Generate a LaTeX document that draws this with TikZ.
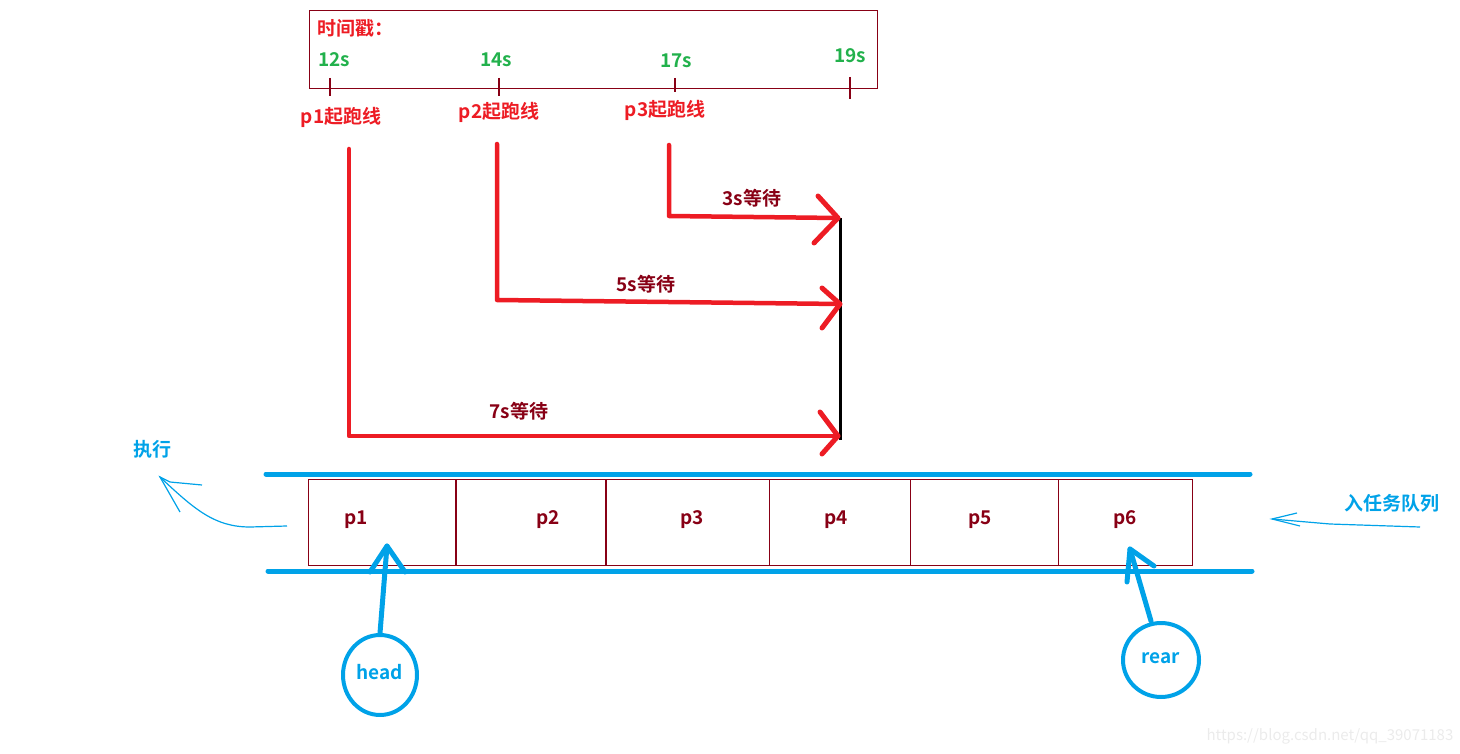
\documentclass[tikz,border=0pt]{standalone}
\usepackage{fontspec}
\setmainfont{Noto Sans CJK SC}[BoldFont={* Bold}]
\usetikzlibrary{calc,shapes.geometric}
\definecolor{pred}{HTML}{ED1C24}
\definecolor{dred}{HTML}{880015}
\definecolor{pgreen}{HTML}{22B14C}
\definecolor{pblue}{HTML}{00A2E8}
\tikzset{
  lbl/.style={font=\bfseries\fontsize{19}{22}\selectfont, inner sep=0pt},
  redlbl/.style={lbl, text=pred},
  greenlbl/.style={lbl, text=pgreen},
  waitlbl/.style={lbl, text=dred},
  bluelbl/.style={lbl, text=pblue},
  cell/.style={draw=dred, line width=1.2pt, minimum height=86pt, inner sep=0pt, anchor=north west},
  tick/.style={draw=dred, line width=1.3pt},
  runline/.style={draw=pred, line width=4.5pt, line cap=round, line join=round},
  chevron/.style={draw=pred, line width=5pt, line cap=round, line join=round},
  qline/.style={draw=pblue, line width=5pt, line cap=round},
  ptr/.style={draw=pblue, line width=5pt, line cap=round, line join=round},
  thinarrow/.style={draw=pblue, line width=1.2pt},
  ptrcircle/.style={draw=pblue, line width=4pt, ellipse, inner sep=0pt, font=\bfseries\fontsize{19}{22}\selectfont, text=pblue},
}
\begin{document}
\begin{tikzpicture}[x=1pt,y=-1pt]
\useasboundingbox (0,0) rectangle (1460,754);
% timestamp box
\node[draw=dred, line width=1.2pt, anchor=north west, minimum width=568pt, minimum height=78pt, inner sep=0pt] (tsbox) at (309,10) {};
\node[redlbl, anchor=west] (tstitle) at (317,28) {时间戳：};
\node[greenlbl] (t12) at (334,60) {12s};
\node[greenlbl] (t14) at (496,60) {14s};
\node[greenlbl] (t17) at (676,61) {17s};
\node[greenlbl] (t19) at (850,56) {19s};
\coordinate (k1a) at (330,78); \coordinate (k1b) at (330,96);
\coordinate (k2a) at (499,78); \coordinate (k2b) at (499,96);
\coordinate (k3a) at (675,78); \coordinate (k3b) at (675,92);
\coordinate (k4a) at (850,77); \coordinate (k4b) at (850,99);
\draw[tick] (k1a) -- (k1b);
\draw[tick] (k2a) -- (k2b);
\draw[tick] (k3a) -- (k3b);
\draw[tick] (k4a) -- (k4b);
\node[redlbl] (s1) at (341,117) {p1起跑线};
\node[redlbl] (s2) at (499,112) {p2起跑线};
\node[redlbl] (s3) at (665,110) {p3起跑线};
% finish line
\coordinate (fintop) at (840,218);
\coordinate (finbot) at (840,440);
\draw[line width=3pt] (fintop) -- (finbot);
% run lines
\coordinate (r1a) at (349,149); \coordinate (r1b) at (349,436); \coordinate (r1c) at (838,436);
\coordinate (r2a) at (497,144); \coordinate (r2b) at (497,300); \coordinate (r2c) at (840,304);
\coordinate (r3a) at (669,145); \coordinate (r3b) at (669,216); \coordinate (r3c) at (838,218);
\draw[runline] (r1a) -- (r1b) -- (r1c);
\draw[runline] (r2a) -- (r2b) -- (r2c);
\draw[runline] (r3a) -- (r3b) -- (r3c);
\draw[chevron] ($(r1c)+(-18,-24)$) -- (r1c) -- ($(r1c)+(-16,18)$);
\draw[chevron] ($(r2c)+(-18,-16)$) -- (r2c) -- ($(r2c)+(-18,24)$);
\draw[chevron] ($(r3c)+(-20,-22)$) -- (r3c) -- ($(r3c)+(-24,25)$);
\node[waitlbl] (w3) at (752,198) {3s等待};
\node[waitlbl] (w5) at (646,284) {5s等待};
\node[waitlbl] (w7) at (519,411) {7s等待};
% queue
\coordinate (qt1) at (266,474); \coordinate (qt2) at (1250,474);
\coordinate (qb1) at (268,571); \coordinate (qb2) at (1252,571);
\draw[qline] (qt1) -- (qt2);
\draw[qline] (qb1) -- (qb2);
\node[cell, minimum width=147pt] (c1) at (308,479) {};
\node[cell, minimum width=149pt] (c2) at (456,479) {};
\node[cell, minimum width=163pt] (c3) at (606,479) {};
\node[cell, minimum width=141pt] (c4) at (769,479) {};
\node[cell, minimum width=148pt] (c5) at (910,479) {};
\node[cell, minimum width=134pt] (c6) at (1058,479) {};
\node[waitlbl] (l1) at (356,520) {p1};
\node[waitlbl] (l2) at (548,520) {p2};
\node[waitlbl] (l3) at (692,520) {p3};
\node[waitlbl] (l4) at (836,520) {p4};
\node[waitlbl] (l5) at (980,520) {p5};
\node[waitlbl] (l6) at (1125,520) {p6};
% head / rear
\node[ptrcircle, minimum width=74pt, minimum height=80pt] (head) at (380,675) {\raisebox{6pt}{head}};
\node[ptrcircle, minimum width=76pt, minimum height=74pt] (rear) at (1161,660) {\raisebox{4pt}{rear}};
\coordinate (htip) at (387,546);
\coordinate (rtip) at (1130,549);
\draw[ptr] (head.north) -- (htip);
\draw[ptr] ($(htip)+(-17,26)$) -- (htip) -- ($(htip)+(18,26)$);
\draw[ptr] ($(rear.north)+(-10,0)$) -- (rtip);
\draw[ptr] ($(rtip)+(-3,33)$) -- (rtip) -- ($(rtip)+(24,17)$);
% exec arrow
\node[bluelbl] (exec) at (152,449) {执行};
\coordinate (ea) at (287,526);
\coordinate (etip) at (160,477);
\draw[thinarrow] (ea) -- (250,527) .. controls (215,527) and (195,510) .. (etip);
\draw[thinarrow] ($(etip)+(42,8)$) -- ($(etip)+(10,5)$) -- (etip) -- ($(etip)+(20,35)$);
% enqueue arrow
\node[bluelbl] (enq) at (1392,503) {入任务队列};
\coordinate (qa) at (1420,527);
\coordinate (qtip) at (1272,519);
\draw[thinarrow] (qa) -- (1330,524) -- (qtip);
\draw[thinarrow] ($(qtip)+(25,-6)$) -- (qtip) -- ($(qtip)+(28,7)$);
% watermark
\node[text=black!8, font=\fontsize{15}{18}\selectfont, inner sep=0pt] (wm) at (1330,736) {https://blog.csdn.net/qq\_39071183};
\end{tikzpicture}
\end{document}
